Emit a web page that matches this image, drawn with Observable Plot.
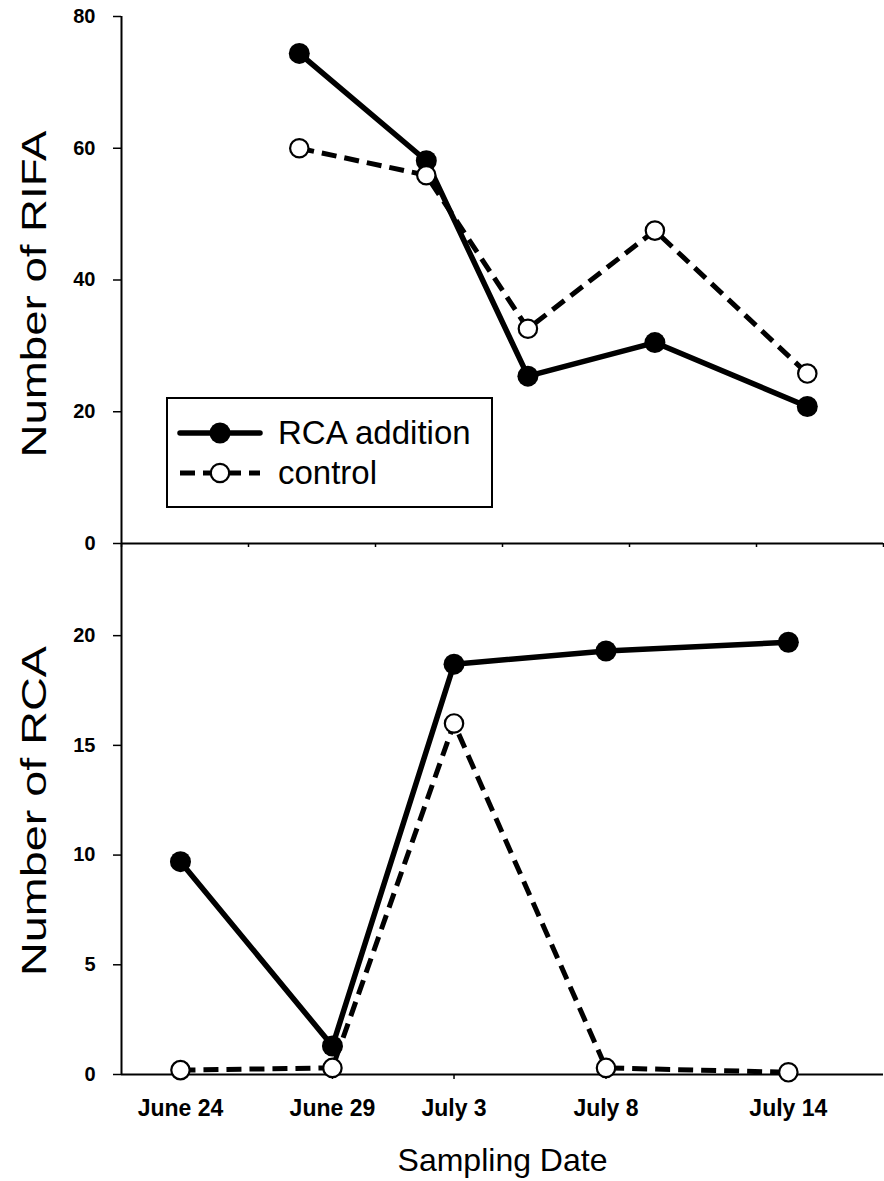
<!DOCTYPE html>
<html><head><meta charset="utf-8">
<script src="https://cdn.jsdelivr.net/npm/d3@7"></script>
<script src="https://cdn.jsdelivr.net/npm/@observablehq/plot@0.6"></script>
<style>
body{margin:0;background:#fff;}
#wrap{position:relative;width:884px;height:1181px;overflow:hidden;background:#fff;font-family:"Liberation Sans",Arial,sans-serif;}
#wrap svg{position:absolute;left:0;}
g[aria-label$="tick label"], g[aria-label$="tick label"] text{font-weight:bold;}
g[aria-label="y-axis tick label"], g[aria-label="y-axis tick label"] text{font-size:20px;}
g[aria-label="x-axis tick label"], g[aria-label="x-axis tick label"] text{font-size:23px;}
</style></head><body><div id="wrap"></div>
<script>
// ---- data ----
const dayTicks = [24, 29, 33, 38, 44];               // day number counted from June 1
const dayLabels = ["June 24", "June 29", "July 3", "July 8", "July 14"];
const rcaAddition = [9.7, 1.3, 18.7, 19.3, 19.7];    // Number of RCA, RCA addition
const rcaControl = [0.2, 0.3, 16.0, 0.3, 0.1];       // Number of RCA, control
const rifaX = [1.4, 2.4, 3.2, 4.2, 5.4];             // upper panel x positions
const rifaAddition = [74.4, 58.1, 25.4, 30.5, 20.8]; // Number of RIFA, RCA addition
const rifaControl = [60.0, 55.9, 32.6, 47.5, 25.8];  // Number of RIFA, control
const rifaYTicks = [0, 20, 40, 60, 80];
const rcaYTicks = [0, 5, 10, 15, 20];
const topXTicks = [0, 1, 2, 3, 4, 5, 6];
const seriesNames = ["RCA addition", "control"];

const font = "Liberation Sans, Arial, sans-serif";
const solid = {stroke: "#000", strokeWidth: 5.5};
const dashed = {stroke: "#000", strokeWidth: 5, strokeDasharray: "15,8", strokeLinecap: "butt"};
const filled = {r: 10.5, fill: "#000", stroke: "none"};
const open = {r: 9.2, fill: "#fff", stroke: "#000", strokeWidth: 2.2};

const topA = rifaX.map((x, i) => ({x, y: rifaAddition[i], s: seriesNames[0]}));
const topC = rifaX.map((x, i) => ({x, y: rifaControl[i], s: seriesNames[1]}));
const botA = dayTicks.map((x, i) => ({x, y: rcaAddition[i], s: seriesNames[0]}));
const botC = dayTicks.map((x, i) => ({x, y: rcaControl[i], s: seriesNames[1]}));

const wrap = document.getElementById("wrap");

const topPlot = Plot.plot({
  width: 884, height: 560,
  marginTop: 16, marginBottom: 17, marginLeft: 121, marginRight: 1,
  style: {fontFamily: font, background: "transparent", overflow: "visible", color: "#000"},
  x: {domain: [0, 6]},
  y: {domain: [0, 80]},
  marks: [
    Plot.axisY({ticks: rifaYTicks, tickSize: 8, tickPadding: 18, fontSize: 20, label: null, strokeWidth: 1.5}),
    Plot.axisX({ticks: topXTicks, tickSize: 4, tickFormat: () => "", label: null, strokeWidth: 1.5}),
    Plot.ruleX([0], {strokeWidth: 2}),
    Plot.ruleY([0], {strokeWidth: 2}),
    Plot.line(topA, {x: "x", y: "y", ...solid}),
    Plot.line(topC, {x: "x", y: "y", ...dashed}),
    Plot.dot(topA, {x: "x", y: "y", ...filled}),
    Plot.dot(topC, {x: "x", y: "y", ...open}),
    Plot.text(["Number of RIFA"], {frameAnchor: "left", rotate: -90, textAnchor: "middle", lineAnchor: "bottom", dx: -76, dy: 14, fontSize: 35})
  ]
});
topPlot.style.top = "0px";

const botPlot = Plot.plot({
  width: 884, height: 651,
  marginTop: 13, marginBottom: 107, marginLeft: 121, marginRight: 1,
  style: {fontFamily: font, background: "transparent", overflow: "visible", color: "#000"},
  x: {domain: [22.06, 47.13]},
  y: {domain: [0, 24.2]},
  marks: [
    Plot.axisY({ticks: rcaYTicks, tickSize: 8, tickPadding: 18, fontSize: 20, label: null, strokeWidth: 1.5}),
    Plot.axisX({ticks: dayTicks, tickSize: 5, tickPadding: 20, fontSize: 23, label: null, strokeWidth: 1.5,
      tickFormat: (d) => dayLabels[dayTicks.indexOf(d)]}),
    Plot.ruleX([22.06], {strokeWidth: 2}),
    Plot.ruleY([0], {strokeWidth: 2}),
    Plot.line(botA, {x: "x", y: "y", ...solid}),
    Plot.line(botC, {x: "x", y: "y", ...dashed}),
    Plot.dot(botA, {x: "x", y: "y", ...filled}),
    Plot.dot(botC, {x: "x", y: "y", ...open}),
    Plot.text(["Number of RCA"], {frameAnchor: "left", rotate: -90, textAnchor: "middle", lineAnchor: "bottom", dx: -76, dy: 2, fontSize: 35}),
    Plot.text(["Sampling Date"], {frameAnchor: "bottom", lineAnchor: "bottom", dy: 96, fontSize: 32})
  ]
});
botPlot.style.top = "530px";

wrap.appendChild(topPlot);
wrap.appendChild(botPlot);

for (const [svg, label, len] of [[topPlot, "Number of RIFA", 327], [botPlot, "Number of RCA", 330]]) {
  const t = [...svg.querySelectorAll("text")].find((e) => e.textContent === label);
  if (t) { t.setAttribute("textLength", len); t.setAttribute("lengthAdjust", "spacingAndGlyphs"); }
}

// ---- legend ----
const leg = d3.create("svg").attr("width", 327).attr("height", 111)
  .style("left", "166px").style("top", "397px").style("position", "absolute");
leg.append("rect").attr("x", 1).attr("y", 1).attr("width", 325).attr("height", 109)
  .attr("fill", "#fff").attr("stroke", "#000").attr("stroke-width", 2);
const rows = [
  {name: seriesNames[0], y: 36, line: solid, dot: filled},
  {name: seriesNames[1], y: 76, line: dashed, dot: open}
];
for (const r of rows) {
  leg.append("line").attr("x1", 14).attr("x2", 94).attr("y1", r.y).attr("y2", r.y)
    .attr("stroke", "#000").attr("stroke-width", r.line.strokeWidth)
    .attr("stroke-dasharray", r.line.strokeDasharray || null)
    .attr("stroke-linecap", r.line.strokeLinecap || "round");
  leg.append("circle").attr("cx", 54).attr("cy", r.y).attr("r", r.dot.r)
    .attr("fill", r.dot.fill).attr("stroke", r.dot.stroke === "none" ? null : r.dot.stroke)
    .attr("stroke-width", r.dot.strokeWidth || null);
  leg.append("text").attr("x", 112).attr("y", r.y + 11).attr("font-size", 33)
    .attr("font-family", font).attr("fill", "#000").text(r.name);
}
wrap.appendChild(leg.node());
</script></body></html>
